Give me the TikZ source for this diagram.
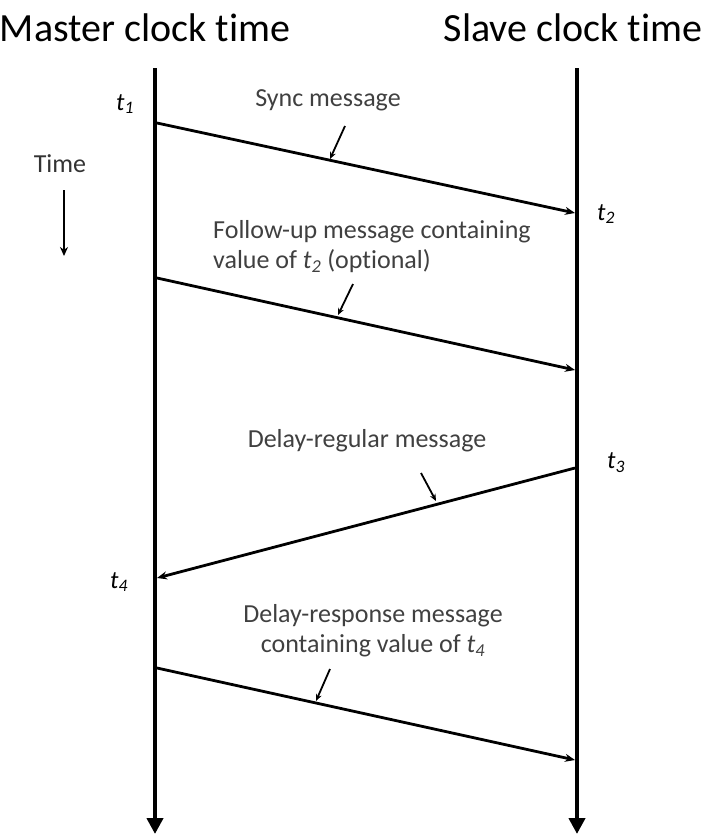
\documentclass[tikz,border=0pt]{standalone}
\usepackage{fontspec}
\setmainfont{Carlito}[Ligatures=NoCommon]
\usetikzlibrary{arrows.meta,positioning}

\begin{document}
\begin{tikzpicture}[x=1pt,y=-1pt,
  lifeline/.style={line width=4pt,-{Triangle[length=16pt,width=16pt]}},
  msg/.style={line width=2.8pt,-{Stealth[length=10pt,width=8pt]}},
  pointer/.style={line width=1.8pt,-{Stealth[length=7pt,width=6pt]}},
  title/.style={font=\fontsize{40}{44}\selectfont},
  lbl/.style={text=black!75,font=\fontsize{26}{30}\selectfont,inner sep=0pt},
  tlbl/.style={font=\fontsize{25}{28}\selectfont\itshape,inner sep=0pt}]

  \useasboundingbox (0,0) rectangle (704,838);

  % Clock titles
  \node[title] (master) at (145,28) {Master clock time};
  \node[title] (slave) at (573,28) {Slave clock time};

  % Lifelines
  \coordinate (mtop) at (155,68);
  \coordinate (mbot) at (155,834);
  \coordinate (stop) at (577,68);
  \coordinate (sbot) at (577,834);
  \draw[lifeline] (mtop) -- (mbot);
  \draw[lifeline] (stop) -- (sbot);

  % Time direction
  \node[lbl,text=black!80] (time) at (60,164) {Time};
  \coordinate (timetop) at (64,190);
  \coordinate (timebot) at (64,256);
  \draw[line width=2pt,-{Stealth[length=9pt,width=8pt]}] (timetop) -- (timebot);

  % Message end points
  \coordinate (m1) at (157,123);
  \coordinate (s1) at (575,213);
  \coordinate (m2) at (157,278);
  \coordinate (s2) at (575,370);
  \coordinate (s3) at (575,468);
  \coordinate (m3) at (157,578);
  \coordinate (m4) at (157,668);
  \coordinate (s4) at (575,760);

  % Messages
  \draw[msg] (m1) -- (s1);
  \draw[msg] (m2) -- (s2);
  \draw[msg] (s3) -- (m3);
  \draw[msg] (m4) -- (s4);

  % Time stamps
  \node[tlbl] (t1) at (125,104) {t\textsubscript{1}};
  \node[tlbl] (t2) at (606,214) {t\textsubscript{2}};
  \node[tlbl] (t3) at (616,463) {t\textsubscript{3}};
  \node[tlbl] (t4) at (119,582) {t\textsubscript{4}};

  % Message labels
  \node[lbl] (sync) at (328,100) {Sync message};
  \node[lbl,anchor=west,align=left] (follow) at (213,247)
    {Follow-up message containing\\value of {\itshape t\textsubscript{2}} (optional)};
  \node[lbl] (dreq) at (367,441) {Delay-regular message};
  \node[lbl,align=center] (dresp) at (373,631)
    {Delay-response message\\containing value of {\itshape t\textsubscript{4}}};

  % Pointers
  \coordinate (p1a) at (345,126);
  \coordinate (p1b) at (330,159);
  \coordinate (p2a) at (353,284);
  \coordinate (p2b) at (338,315);
  \coordinate (p3a) at (421,473);
  \coordinate (p3b) at (436,501);
  \coordinate (p4a) at (330,669);
  \coordinate (p4b) at (316,701);
  \draw[pointer] (p1a) -- (p1b);
  \draw[pointer] (p2a) -- (p2b);
  \draw[pointer] (p3a) -- (p3b);
  \draw[pointer] (p4a) -- (p4b);
\end{tikzpicture}
\end{document}
